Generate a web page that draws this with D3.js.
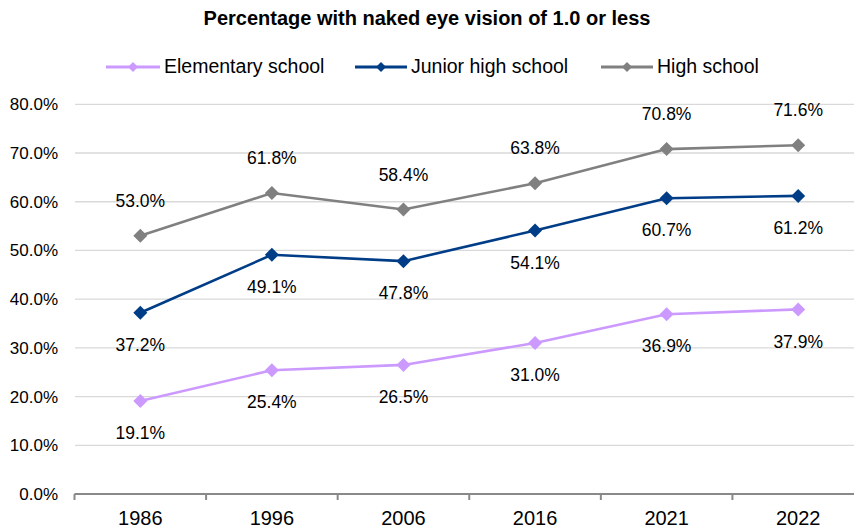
<!DOCTYPE html>
<html>
<head>
<meta charset="utf-8">
<script src="https://cdn.jsdelivr.net/npm/d3@7"></script>
<style>
  html, body { margin: 0; padding: 0; background: #fff; }
  svg { display: block; font-family: "Liberation Sans", Arial, sans-serif; }
</style>
</head>
<body>
<svg id="chart" width="854" height="532"></svg>
<script>
// Survey years and the share of pupils with naked-eye vision of 1.0 or less (%)
const years = ["1986", "1996", "2006", "2016", "2021", "2022"];
const elementary = [19.1, 25.4, 26.5, 31.0, 36.9, 37.9];
const juniorHigh = [37.2, 49.1, 47.8, 54.1, 60.7, 61.2];
const highSchool = [53.0, 61.8, 58.4, 63.8, 70.8, 71.6];
const yTicks = [0, 10, 20, 30, 40, 50, 60, 70, 80];
const seriesNames = ["Elementary school", "Junior high school", "High school"];

const series = [
  { name: seriesNames[0], values: elementary, color: "#cc99ff", labelSide: 1 },
  { name: seriesNames[1], values: juniorHigh, color: "#003d87", labelSide: 1 },
  { name: seriesNames[2], values: highSchool, color: "#808080", labelSide: -1 }
];

const svg = d3.select("#chart");

const x = d3.scaleBand().domain(years).range([74.5, 864]);
const y = d3.scaleLinear().domain([0, 80]).range([494, 104.3]);
const cx = d => x(d) + x.bandwidth() / 2;

// Title
svg.append("text")
  .attr("x", 427).attr("y", 20)
  .attr("text-anchor", "middle").attr("dominant-baseline", "middle")
  .style("font-size", "20px").style("font-weight", "bold").attr("fill", "#000")
  .text("Percentage with naked eye vision of 1.0 or less");

// Horizontal gridlines
svg.append("g").selectAll("line")
  .data(yTicks.filter(t => t > 0))
  .join("line")
  .attr("x1", 75).attr("x2", 854)
  .attr("y1", d => y(d)).attr("y2", d => y(d))
  .attr("stroke", "#d9d9d9").attr("stroke-width", 1.3);

// Y axis labels
const yAxis = d3.axisLeft(y).tickValues(yTicks).tickSize(0).tickPadding(0)
  .tickFormat(d => d.toFixed(1) + "%");
svg.append("g").attr("transform", "translate(58,0)").call(yAxis)
  .call(g => g.select(".domain").remove())
  .call(g => g.selectAll("text").style("font-size", "17px")
    .style("font-family", "'Liberation Sans', Arial, sans-serif").attr("fill", "#000"));

// X axis: baseline with ticks on category boundaries
const xg = svg.append("g");
xg.append("line").attr("x1", 74.5).attr("x2", 854).attr("y1", 494).attr("y2", 494)
  .attr("stroke", "#898989").attr("stroke-width", 2.2);
xg.selectAll("line.tick")
  .data(years)
  .join("line").attr("class", "tick")
  .attr("x1", d => x(d)).attr("x2", d => x(d))
  .attr("y1", 494).attr("y2", 500)
  .attr("stroke", "#898989").attr("stroke-width", 2);
xg.selectAll("text")
  .data(years)
  .join("text")
  .attr("x", d => cx(d)).attr("y", 520)
  .attr("text-anchor", "middle").attr("dominant-baseline", "middle")
  .style("font-size", "20px").attr("fill", "#000")
  .text(d => d);

// Lines, markers and value labels
const line = d3.line().x((v, i) => cx(years[i])).y(v => y(v));
const diamond = d3.symbol().type(d3.symbolSquare).size(98);

series.forEach(s => {
  const g = svg.append("g");
  g.append("path").datum(s.values)
    .attr("d", line).attr("fill", "none")
    .attr("stroke", s.color).attr("stroke-width", 2.6);
  g.selectAll("path.marker")
    .data(s.values)
    .join("path").attr("class", "marker")
    .attr("d", diamond)
    .attr("transform", (v, i) => `translate(${cx(years[i])},${y(v)}) rotate(45)`)
    .attr("fill", s.color);
  g.selectAll("text")
    .data(s.values)
    .join("text")
    .attr("x", (v, i) => cx(years[i]))
    .attr("y", v => y(v) + s.labelSide * 33.5)
    .attr("text-anchor", "middle").attr("dominant-baseline", "middle")
    .style("font-size", "17.5px").attr("fill", "#000")
    .text(v => v.toFixed(1) + "%");
});

// Legend
const legendItems = [
  { s: series[0], x0: 106, x1: 160 },
  { s: series[1], x0: 355, x1: 407 },
  { s: series[2], x0: 601, x1: 653 }
];
const legendSymbol = d3.symbol().type(d3.symbolSquare).size(50);
const lg = svg.append("g");
legendItems.forEach(it => {
  lg.append("line").attr("x1", it.x0).attr("x2", it.x1).attr("y1", 67).attr("y2", 67)
    .attr("stroke", it.s.color).attr("stroke-width", 3);
  lg.append("path").attr("d", legendSymbol)
    .attr("transform", `translate(${(it.x0 + it.x1) / 2},67) rotate(45)`)
    .attr("fill", it.s.color);
  lg.append("text").attr("x", it.x1 + 4).attr("y", 68)
    .attr("dominant-baseline", "middle")
    .style("font-size", "19.5px").attr("fill", "#000")
    .text(it.s.name);
});
</script>
</body>
</html>
